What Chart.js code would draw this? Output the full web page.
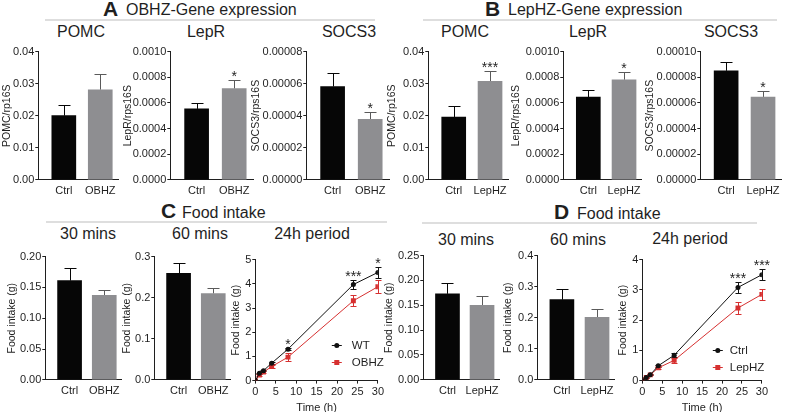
<!DOCTYPE html>
<html>
<head>
<meta charset="utf-8">
<script src="https://cdn.jsdelivr.net/npm/chart.js@4.4.0/dist/chart.umd.min.js"></script>
<style>
  body { margin: 0; background: #fff; width: 787px; height: 412px; overflow: hidden; position: relative;
         font-family: "Liberation Sans", Arial, sans-serif; color: #1f1f1f; }
  canvas { position: absolute; }
  .big { position: absolute; font-size: 21px; line-height: 21px; font-weight: bold; white-space: nowrap; }
  .hd { position: absolute; font-size: 16px; line-height: 16px; white-space: nowrap; }
  .st { position: absolute; font-size: 16px; line-height: 16px; white-space: nowrap; transform: translateX(-50%); }
  .rule { position: absolute; height: 1.5px; background: #dedede; }
</style>
</head>
<body>

<span class="big" style="left:103px;top:-2px">A</span>
<span class="hd" style="left:126px;top:2px">OBHZ-Gene expression</span>
<div class="rule" style="left:45px;top:19px;width:330px"></div>
<span class="big" style="left:485px;top:-2px">B</span>
<span class="hd" style="left:508px;top:2px">LepHZ-Gene expression</span>
<div class="rule" style="left:423px;top:19px;width:354px"></div>
<span class="big" style="left:161px;top:200px">C</span>
<span class="hd" style="left:182px;top:204.5px">Food intake</span>
<div class="rule" style="left:46px;top:221px;width:341px"></div>
<span class="big" style="left:554px;top:201px">D</span>
<span class="hd" style="left:577px;top:205.5px">Food intake</span>
<div class="rule" style="left:422px;top:222px;width:335px"></div>

<span class="st" style="left:81px;top:24px">POMC</span>
<span class="st" style="left:206px;top:24px">LepR</span>
<span class="st" style="left:349px;top:24px">SOCS3</span>
<span class="st" style="left:465px;top:24px">POMC</span>
<span class="st" style="left:588px;top:24px">LepR</span>
<span class="st" style="left:731px;top:24px">SOCS3</span>
<span class="st" style="left:88px;top:226px">30 mins</span>
<span class="st" style="left:200px;top:226px">60 mins</span>
<span class="st" style="left:312px;top:226px">24h period</span>
<span class="st" style="left:466px;top:231.5px">30 mins</span>
<span class="st" style="left:578px;top:231.5px">60 mins</span>
<span class="st" style="left:690px;top:231px">24h period</span>

<canvas id="aPomc"></canvas>
<canvas id="aLepr"></canvas>
<canvas id="aSocs3"></canvas>
<canvas id="bPomc"></canvas>
<canvas id="bLepr"></canvas>
<canvas id="bSocs3"></canvas>
<canvas id="c30"></canvas>
<canvas id="c60"></canvas>
<canvas id="c24"></canvas>
<canvas id="d30"></canvas>
<canvas id="d60"></canvas>
<canvas id="d24"></canvas>

<script>
// ---- data (mean and SEM) ----
const groupsOB = ['Ctrl', 'OBHZ'];
const groupsLep = ['Ctrl', 'LepHZ'];

const obPomc = [0.0200, 0.0281];
const obPomcSem = [0.0034, 0.0050];
const obPomcStars = ['', ''];
const obLepr = [0.000553, 0.000711];
const obLeprSem = [0.000048, 0.000070];
const obLeprStars = ['', '*'];
const obSocs3 = [0.0000582, 0.0000378];
const obSocs3Sem = [0.0000082, 0.0000042];
const obSocs3Stars = ['', '*'];

const lepPomc = [0.0196, 0.0307];
const lepPomcSem = [0.0033, 0.0031];
const lepPomcStars = ['', '***'];
const lepLepr = [0.000646, 0.000780];
const lepLeprSem = [0.000057, 0.000057];
const lepLeprStars = ['', '*'];
const lepSocs3 = [0.0000850, 0.0000646];
const lepSocs3Sem = [0.0000065, 0.0000044];
const lepSocs3Stars = ['', '*'];

const ob30 = [0.161, 0.137];
const ob30Sem = [0.021, 0.009];
const ob60 = [0.259, 0.210];
const ob60Sem = [0.026, 0.014];
const lep30 = [0.173, 0.150];
const lep30Sem = [0.021, 0.018];
const lep60 = [0.258, 0.201];
const lep60Sem = [0.034, 0.028];
const noStars = ['', ''];

const hours = [0, 1, 2, 4, 8, 24, 30];
const obWT = [0, 0.30, 0.41, 0.72, 1.30, 3.97, 4.47];
const obWTSem = [0, 0.03, 0.03, 0.05, 0.05, 0.20, 0.22];
const obHZ = [0, 0.23, 0.35, 0.58, 0.97, 3.30, 3.88];
const obHZSem = [0, 0.03, 0.04, 0.05, 0.15, 0.22, 0.27];
const ob24Stars = ['', '', '', '', '*', '***', '*'];

const lepCtrl = [0, 0.10, 0.19, 0.49, 0.84, 3.08, 3.50];
const lepCtrlSem = [0, 0.02, 0.02, 0.04, 0.06, 0.17, 0.19];
const lepHZ = [0, 0.10, 0.19, 0.42, 0.67, 2.40, 2.85];
const lepHZSem = [0, 0.02, 0.02, 0.04, 0.08, 0.21, 0.19];
const lep24Stars = ['', '', '', '', '', '***', '***'];

// tick labels
const pomcTicks = ['0.00', '0.01', '0.02', '0.03', '0.04'];
const leprTicks = ['0.0000', '0.0002', '0.0004', '0.0006', '0.0008', '0.0010'];
const socsObTicks = ['0.00000', '0.00002', '0.00004', '0.00006', '0.00008'];
const socsLepTicks = ['0.00000', '0.00002', '0.00004', '0.00006', '0.00008', '0.00010'];
const ob30Ticks = ['0.00', '0.05', '0.10', '0.15', '0.20'];
const ob60Ticks = ['0.0', '0.1', '0.2', '0.3'];
const ob24Ticks = ['0', '1', '2', '3', '4', '5'];
const lep30Ticks = ['0.00', '0.05', '0.10', '0.15', '0.20', '0.25'];
const lep60Ticks = ['0.0', '0.1', '0.2', '0.3', '0.4'];
const lep24Ticks = ['0', '1', '2', '3', '4'];
const hourTicks = ['0', '5', '10', '15', '20', '25', '30'];

// ---- styling ----
const INK = '#1f1f1f';
const BAR_COLORS = ['#060606', '#8e8e91'];
const ERR_COLORS = ['#060606', '#5a5a5a'];
const LINE_COLORS = ['#111111', '#d63030'];
const FONT = '"Liberation Sans", Arial, sans-serif';

Chart.defaults.font.family = FONT;
Chart.defaults.color = INK;
Chart.defaults.animation = false;

// error bars + significance stars, drawn through the chart's own scales
const marksPlugin = {
    id: 'marks',
    beforeDatasetsDraw(chart) {
        const ctx = chart.ctx;
        const ys = chart.scales.y;
        const bars = chart.config.type === 'bar';
        ctx.save();
        ctx.lineWidth = 1;
        chart.data.datasets.forEach((ds, d) => {
            chart.getDatasetMeta(d).data.forEach((el, i) => {
                const v = ds.data[i].y;
                const e = ds.sem[i];
                if (!e) return;
                const x = Math.round(el.x) + 0.5;
                const top = Math.round(ys.getPixelForValue(v + e)) + 0.5;
                const bottom = bars ? el.y : Math.round(ys.getPixelForValue(v - e)) + 0.5;
                const cap = bars ? 6 : 3;
                ctx.strokeStyle = bars ? ERR_COLORS[i] : ds.borderColor;
                ctx.beginPath();
                ctx.moveTo(x, bottom);
                ctx.lineTo(x, top);
                ctx.moveTo(x - cap, top);
                ctx.lineTo(x + cap, top);
                if (!bars) {
                    ctx.moveTo(x - cap, bottom);
                    ctx.lineTo(x + cap, bottom);
                }
                ctx.stroke();
            });
        });
        ctx.restore();
    },
    afterDatasetsDraw(chart) {
        const ctx = chart.ctx;
        const ys = chart.scales.y;
        const stars = chart.data.datasets[0].stars || [];
        ctx.save();
        ctx.fillStyle = INK;
        ctx.font = '14px ' + FONT;
        ctx.textAlign = 'center';
        ctx.textBaseline = 'alphabetic';
        stars.forEach((s, i) => {
            if (!s) return;
            let top = Infinity;
            chart.data.datasets.forEach(ds => {
                top = Math.min(top, ys.getPixelForValue(ds.data[i].y + ds.sem[i]));
            });
            ctx.fillText(s, chart.getDatasetMeta(0).data[i].x, top + 1);
        });
        ctx.restore();
    }
};

// legend drawn inside the plot area
const keyPlugin = {
    id: 'key',
    afterDraw(chart, args, opts) {
        if (!opts.at) return;
        const ctx = chart.ctx;
        const a = chart.chartArea;
        ctx.save();
        chart.data.datasets.forEach((ds, d) => {
            const x = a.left + opts.at[0];
            const y = Math.round(a.bottom - opts.at[1] + d * opts.step) + 0.5;
            ctx.strokeStyle = ds.borderColor;
            ctx.fillStyle = ds.borderColor;
            ctx.lineWidth = 1;
            ctx.beginPath();
            ctx.moveTo(x - 5, y);
            ctx.lineTo(x + 5, y);
            ctx.stroke();
            if (ds.pointStyle === 'rect') {
                ctx.fillRect(x - 2.5, y - 2.5, 5, 5);
            } else {
                ctx.beginPath();
                ctx.arc(x, y, 2.5, 0, 2 * Math.PI);
                ctx.fill();
            }
            ctx.fillStyle = INK;
            ctx.font = '11.5px ' + FONT;
            ctx.textAlign = 'left';
            ctx.textBaseline = 'middle';
            ctx.fillText(ds.label, x + opts.gap, y);
        });
        ctx.restore();
    }
};

function yAxis(tickLabels, title, titleX, axisX) {
    return {
        min: 0,
        max: parseFloat(tickLabels[tickLabels.length - 1]),
        afterBuildTicks: s => { s.ticks = tickLabels.map(t => ({ value: parseFloat(t) })); },
        afterFit: s => { s.width = axisX - titleX + 6.3; },
        ticks: { callback: (v, i) => tickLabels[i], font: { size: 11 }, padding: 1, color: INK },
        grid: { drawOnChartArea: false, tickLength: 3, color: INK },
        border: { color: INK },
        title: { display: true, text: title, font: { size: 10.5 }, padding: 0, color: INK }
    };
}

// size and move the canvas so that the plot area lands on the wanted box
function place(chart, box) {
    for (let k = 0; k < 2; k++) {
        const a = chart.chartArea;
        const w = Math.round(chart.width + (box.right - box.axis) - (a.right - a.left));
        const h = Math.round(chart.height + (box.bottom - box.top) - (a.bottom - a.top));
        chart.resize(w, h);
    }
    const a = chart.chartArea;
    chart.canvas.style.left = Math.round(box.axis - a.left) + 'px';
    chart.canvas.style.top = Math.round(box.top - a.top) + 'px';
}

function barChart(id, box, groups, means, sems, stars, ticks, yTitle) {
    const canvas = document.getElementById(id);
    canvas.width = box.right - box.axis + 80;
    canvas.height = box.bottom - box.top + 40;
    const chart = new Chart(canvas, {
        type: 'bar',
        data: {
            datasets: [{
                data: means.map((m, i) => ({ x: i + 1, y: m })),
                sem: sems,
                stars: stars,
                backgroundColor: BAR_COLORS,
                borderWidth: 0,
                barThickness: 24
            }]
        },
        options: {
            responsive: false,
            maintainAspectRatio: false,
            layout: { padding: { top: 6, right: 2 } },
            plugins: { legend: { display: false }, tooltip: { enabled: false } },
            scales: {
                x: {
                    type: 'linear', min: 0.3, max: 2.5, offset: false,
                    afterBuildTicks: s => { s.ticks = groups.map((g, i) => ({ value: i + 1 })); },
                    ticks: { callback: (v, i) => groups[i], font: { size: 11 }, padding: 5, maxRotation: 0, autoSkip: false, color: INK },
                    grid: { display: false, drawTicks: false, offset: false },
                    border: { color: INK }
                },
                y: yAxis(ticks, yTitle, box.titleX, box.axis)
            }
        },
        plugins: [marksPlugin]
    });
    place(chart, box);
    return chart;
}

function lineChart(id, box, names, series, sems, stars, ticks, key) {
    const canvas = document.getElementById(id);
    canvas.width = box.right - box.axis + 80;
    canvas.height = box.bottom - box.top + 60;
    const chart = new Chart(canvas, {
        type: 'line',
        data: {
            datasets: series.map((s, d) => ({
                label: names[d],
                data: s.map((v, i) => ({ x: hours[i], y: v })),
                sem: sems[d],
                stars: stars,
                borderColor: LINE_COLORS[d],
                backgroundColor: LINE_COLORS[d],
                borderWidth: 1,
                pointStyle: d ? 'rect' : 'circle',
                pointRadius: d ? 3.5 : 2.5,
                pointBorderWidth: 0,
                tension: 0
            }))
        },
        options: {
            responsive: false,
            maintainAspectRatio: false,
            layout: { padding: { top: 6, right: 4 } },
            plugins: { legend: { display: false }, tooltip: { enabled: false }, key: key },
            scales: {
                x: {
                    type: 'linear', min: 0, max: 30,
                    afterBuildTicks: s => { s.ticks = hourTicks.map(t => ({ value: parseFloat(t) })); },
                    ticks: { callback: (v, i) => hourTicks[i], font: { size: 11 }, padding: 2, maxRotation: 0, autoSkip: false, color: INK },
                    grid: { drawOnChartArea: false, tickLength: 3, color: INK },
                    border: { color: INK },
                    title: { display: true, text: 'Time (h)', font: { size: 11 }, padding: { top: 1, bottom: 0 }, color: INK }
                },
                y: yAxis(ticks, 'Food intake (g)', box.titleX, box.axis)
            }
        },
        plugins: [marksPlugin, keyPlugin]
    });
    place(chart, box);
    return chart;
}

// A: OBHZ gene expression
barChart('aPomc', { axis: 38, right: 118, top: 52, bottom: 180, titleX: 7 }, groupsOB, obPomc, obPomcSem, obPomcStars, pomcTicks, 'POMC/rp16S');
barChart('aLepr', { axis: 170, right: 252, top: 52, bottom: 180, titleX: 128 }, groupsOB, obLepr, obLeprSem, obLeprStars, leprTicks, 'LepR/rps16S');
barChart('aSocs3', { axis: 306, right: 388, top: 52, bottom: 180, titleX: 256 }, groupsOB, obSocs3, obSocs3Sem, obSocs3Stars, socsObTicks, 'SOCS3/rps16S');

// B: LepHZ gene expression
barChart('bPomc', { axis: 428, right: 507, top: 52, bottom: 180, titleX: 392 }, groupsLep, lepPomc, lepPomcSem, lepPomcStars, pomcTicks, 'POMC/rp16S');
barChart('bLepr', { axis: 563, right: 640, top: 52, bottom: 180, titleX: 516 }, groupsLep, lepLepr, lepLeprSem, lepLeprStars, leprTicks, 'LepR/rps16S');
barChart('bSocs3', { axis: 700, right: 781, top: 52, bottom: 180, titleX: 650 }, groupsLep, lepSocs3, lepSocs3Sem, lepSocs3Stars, socsLepTicks, 'SOCS3/rps16S');

// C: food intake, OBHZ
barChart('c30', { axis: 45, right: 121, top: 257, bottom: 380, titleX: 12 }, groupsOB, ob30, ob30Sem, noStars, ob30Ticks, 'Food intake (g)');
barChart('c60', { axis: 154, right: 229, top: 257, bottom: 380, titleX: 127 }, groupsOB, ob60, ob60Sem, noStars, ob60Ticks, 'Food intake (g)');
lineChart('c24', { axis: 255, right: 378, top: 260, bottom: 381, titleX: 236 }, ['WT', 'OBHZ'], [obWT, obHZ], [obWTSem, obHZSem], ob24Stars, ob24Ticks,
    { at: [81.5, 36], step: 17, gap: 15 });

// D: food intake, LepHZ
barChart('d30', { axis: 423, right: 498, top: 256, bottom: 380, titleX: 389 }, groupsLep, lep30, lep30Sem, noStars, lep30Ticks, 'Food intake (g)');
barChart('d60', { axis: 537, right: 613, top: 256, bottom: 380, titleX: 508 }, groupsLep, lep60, lep60Sem, noStars, lep60Ticks, 'Food intake (g)');
lineChart('d24', { axis: 642, right: 762, top: 260, bottom: 381, titleX: 623 }, ['Ctrl', 'LepHZ'], [lepCtrl, lepHZ], [lepCtrlSem, lepHZSem], lep24Stars, lep24Ticks,
    { at: [75.5, 30.5], step: 16.5, gap: 12 });
</script>
</body>
</html>
